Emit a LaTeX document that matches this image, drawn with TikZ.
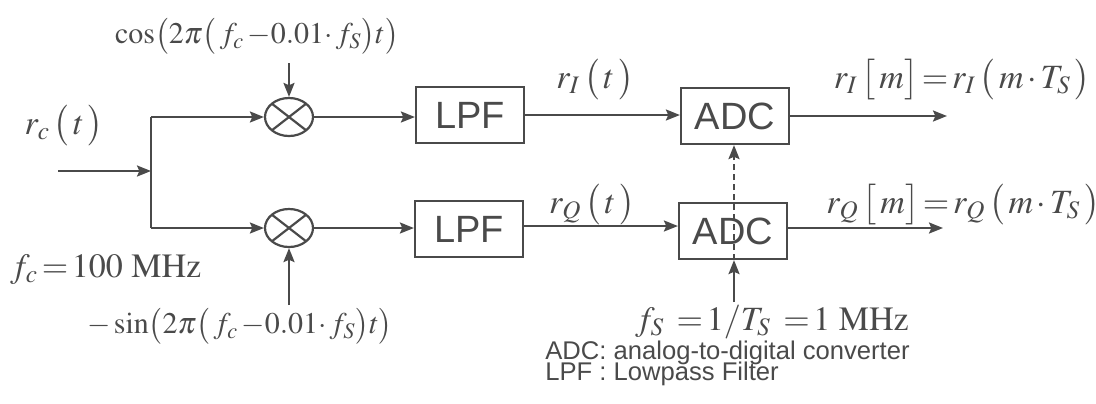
\documentclass[tikz,border=0pt]{standalone}
\usepackage{mathptmx}
\usepackage[no-math]{fontspec}
\setmainfont{Liberation Serif}
\setsansfont{Liberation Sans}
\usetikzlibrary{arrows.meta,shapes.geometric}
\definecolor{ink}{HTML}{4A4A4A}
\tikzset{
  wire/.style={draw=ink, line width=1.1pt},
  arr/.style={wire, -{Stealth[length=7pt,width=5.5pt,inset=1.2pt]}},
  blk/.style={draw=ink, line width=1.1pt, minimum width=54pt, minimum height=28pt, inner sep=0pt,
              font=\sffamily\fontsize{19}{19}\selectfont, text=ink},
  mix/.style={ellipse, draw=ink, line width=1.1pt, minimum width=24pt, minimum height=19pt, inner sep=0pt,
              path picture={\draw[ink, line width=1.1pt]
                 ([shift={(3pt,2.5pt)}]path picture bounding box.south west) -- ([shift={(-3pt,-2.5pt)}]path picture bounding box.north east)
                 ([shift={(3pt,-2.5pt)}]path picture bounding box.north west) -- ([shift={(-3pt,2.5pt)}]path picture bounding box.south east);}},
  lab/.style={text=ink, font=\fontsize{17}{17}\selectfont, inner sep=0pt},
  osc/.style={text=ink, font=\fontsize{15}{15}\selectfont, inner sep=0pt},
  leg/.style={text=ink, font=\sffamily\fontsize{12.8}{12.8}\selectfont, inner sep=0pt, anchor=west},
}
\begin{document}
\begin{tikzpicture}[x=0.5pt,y=-0.5pt]
\useasboundingbox (0,0) rectangle (1096,403);
\fill[white] (0,0) rectangle (1096,403);
% blocks
\node[mix] (m1) at (289,117) {};
\node[mix] (m2) at (289,228) {};
\node[blk] (l1) at (470,115) {LPF};
\node[blk] (l2) at (469,229) {LPF};
\node[blk] (a1) at (735,116) {ADC};
\node[blk] (a2) at (733,231) {ADC};
% coordinates
\coordinate (in) at (58,171);
\coordinate (j) at (151,171);
\coordinate (jt) at (151,117);
\coordinate (jb) at (151,228);
\coordinate (cosin) at (289,63);
\coordinate (sinin) at (289,305);
\coordinate (o1) at (947,116);
\coordinate (o2) at (943,228);
\coordinate (fsin) at (734,302);
% connectors
\draw[arr] (in) -- (j);
\draw[wire] (jt) -- (jb);
\draw[arr] (jt) -- (m1.west);
\draw[arr] (jb) -- (m2.west);
\draw[arr] (cosin) -- (m1.north);
\draw[arr] (sinin) -- (m2.south);
\draw[arr] (m1.east) -- (l1.west |- m1.east);
\draw[arr] (m2.east) -- (l2.west |- m2.east);
\draw[arr] (l1.east) -- (a1.west |- l1.east);
\draw[arr] (l2.east |- 0,226) -- (a2.west |- 0,226);
\draw[arr] (a1.east) -- (o1 |- a1.east);
\draw[arr] (a2.east |- 0,228) -- (o2);
\draw[arr, dash pattern=on 3pt off 2pt] (a2.south -| fsin) -- (a1.south -| fsin);
\draw[arr] (fsin) -- (a2.south -| fsin);
% labels
\node[lab] (rc) at (64,126) {$r_c\,\bigl(\,t\,\bigr)$};
\node[osc] (cos) at (257,36) {$\cos\bigl(2\pi\bigl(\,f_c\,{-}0.01{\cdot}\,f_S\bigr)t\bigr)$};
\node[osc] (sin) at (240,326) {${-}\sin\bigl(2\pi\bigl(\,f_c\,{-}0.01{\cdot}\,f_S\bigr)t\bigr)$};
\node[lab, anchor=west] (fc) at (10,270) {$f_c\,{=}\,100\ \mathrm{MHz}$};
\node[lab] (ri) at (595,80) {$r_I\,\bigl(\,t\,\bigr)$};
\node[lab] (rq) at (592,205) {$r_Q\,\bigl(\,t\,\bigr)$};
\node[lab] (rim) at (962,80) {$r_I\,\bigl[\,m\bigr]\,{=}\,r_I\,\bigl(\,m\,{\cdot}\,T_S\,\bigr)$};
\node[lab] (rqm) at (963,205) {$r_Q\,\bigl[\,m\bigr]\,{=}\,r_Q\,\bigl(\,m\,{\cdot}\,T_S\,\bigr)$};
\node[lab] (fs) at (772,322) {$f_S\ \,{=}\,1/T_S\ \,{=}\,1\ \mathrm{MHz}$};
\node[leg] (lg1) at (545,353) {ADC: analog-to-digital converter};
\node[leg] (lg2) at (545,374) {LPF : Lowpass Filter};
\end{tikzpicture}
\end{document}
